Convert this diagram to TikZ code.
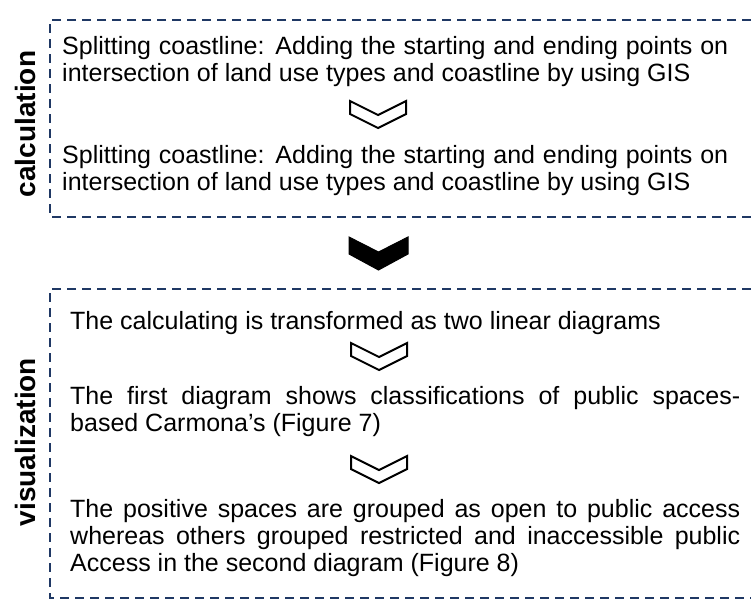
\documentclass[tikz,border=0pt]{standalone}
\usepackage{fontspec}
\setmainfont{Liberation Sans}
\definecolor{navy}{RGB}{31,56,100}
\begin{document}
\begin{tikzpicture}[x=1pt,y=-1pt,
  frame/.style={draw=navy,line width=2pt,dash pattern=on 9pt off 6pt},
  body/.style={anchor=base west,align=left,inner sep=0pt,font=\fontsize{25}{27}\selectfont},
  side/.style={rotate=90,inner sep=0pt,font=\bfseries\fontsize{28}{30}\selectfont},
  chevopen/.style={draw=black,line width=2pt,line join=miter,fill=white},
  chevfull/.style={draw=black,line width=1pt,fill=black},
  pics/chev/.style={code={\path[#1] (-28,-13.5) -- (0,0.5) -- (28,-13.5) -- (28,-0.5) -- (0,13.5) -- (-28,-0.5) -- cycle;}}
]
\useasboundingbox (0,0) rectangle (751,600);
% frames
\draw[frame] (751,20) -- (50,20) -- (50,217) -- (751,217);
\draw[frame] (751,289) -- (50,289) -- (50,598) -- (751,598);
% side labels
\node[side] (lcalc) at (25,124) {calculation};
\node[side] (lvis) at (25,442) {visualization};
% box 1 (base anchor = baseline of last line)
\node[body] (t1) at (62,81) {\makebox[666pt][s]{Splitting coastline: Adding the starting and ending points on}\\intersection of land use types and coastline by using GIS};
\pic at (378,114.5) {chev=chevopen};
\node[body] (t2) at (62,190) {\makebox[666pt][s]{Splitting coastline: Adding the starting and ending points on}\\intersection of land use types and coastline by using GIS};
% between boxes
\path[chevfull] (349,237) -- (378.5,252) -- (408,237) -- (408,254) -- (378.5,270) -- (349,254) -- cycle;
% box 2
\node[body] (t3) at (70,329) {The calculating is transformed as two linear diagrams};
\pic at (379,356.5) {chev=chevopen};
\node[body] (t4) at (70,431) {\makebox[670pt][s]{The first diagram shows classifications of public spaces-}\\based Carmona’s (Figure 7)};
\pic at (379,469.5) {chev=chevopen};
\node[body] (t5) at (70,571) {\makebox[670pt][s]{The positive spaces are grouped as open to public access}\\\makebox[670pt][s]{whereas others grouped restricted and inaccessible public}\\Access in the second diagram (Figure 8)};
\end{tikzpicture}
\end{document}
